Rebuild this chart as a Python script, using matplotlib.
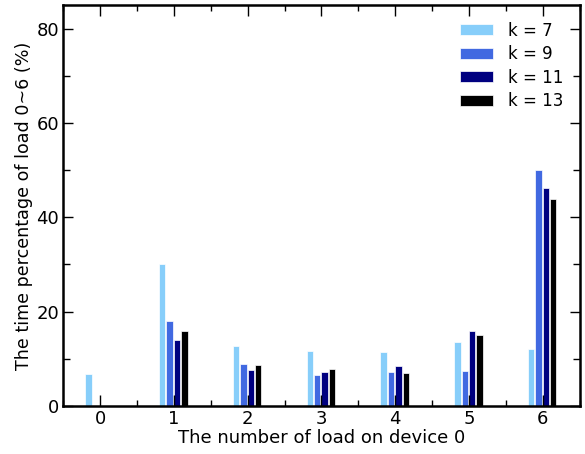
import numpy as np
import matplotlib
matplotlib.use('Agg')
import matplotlib.pyplot as plt
from matplotlib.ticker import MultipleLocator

loads = [0, 1, 2, 3, 4, 5, 6]
series_labels = ['k = 7', 'k = 9', 'k = 11', 'k = 13']
k7 = [6.8, 30.0, 12.6, 11.7, 11.5, 13.5, 12.1]
k9 = [0, 18.1, 8.9, 6.6, 7.2, 7.5, 50.0]
k11 = [0, 13.9, 7.6, 7.1, 8.4, 15.8, 46.1]
k13 = [0, 15.8, 8.7, 7.9, 7.0, 15.1, 43.8]

colors = ['#87CEFA', '#4169E1', '#000080', '#000000']

fig = plt.figure(figsize=(5.85, 4.54), dpi=100)
ax = fig.add_axes([0.108, 0.106, 0.883, 0.883])

x = np.array(loads)
width = 0.085
for i, (vals, lab, c) in enumerate(zip([k7, k9, k11, k13], series_labels, colors)):
    ax.bar(x - 0.2 + 0.1 * i, vals, width, align='edge', color=c,
           edgecolor='white', linewidth=0.5, label=lab)

ax.set_xlim(-0.5, 6.5)
ax.set_ylim(0, 85)
ax.set_xticks(loads)
ax.xaxis.set_minor_locator(MultipleLocator(0.5))
ax.yaxis.set_major_locator(MultipleLocator(20))
ax.yaxis.set_minor_locator(MultipleLocator(10))
ax.tick_params(which='both', direction='in', top=True, right=True, width=1,
               labelsize=13, pad=3)
ax.tick_params(axis='x', which='major', length=8)
ax.tick_params(axis='x', which='minor', length=4)
ax.tick_params(axis='y', which='major', length=7)
ax.tick_params(axis='y', which='minor', length=5)
for s in ax.spines.values():
    s.set_linewidth(1.8)

ax.set_xlabel('The number of load on device 0', fontsize=13, labelpad=1)
ax.set_ylabel('The time percentage of load 0~6 (%)', fontsize=12.6, labelpad=2)

ax.legend(loc='upper right', frameon=False, fontsize=12, handlelength=1.95,
          handleheight=0.6, labelspacing=0.33, handletextpad=0.9,
          borderaxespad=0.6)

fig.savefig('out.png', dpi=100)
